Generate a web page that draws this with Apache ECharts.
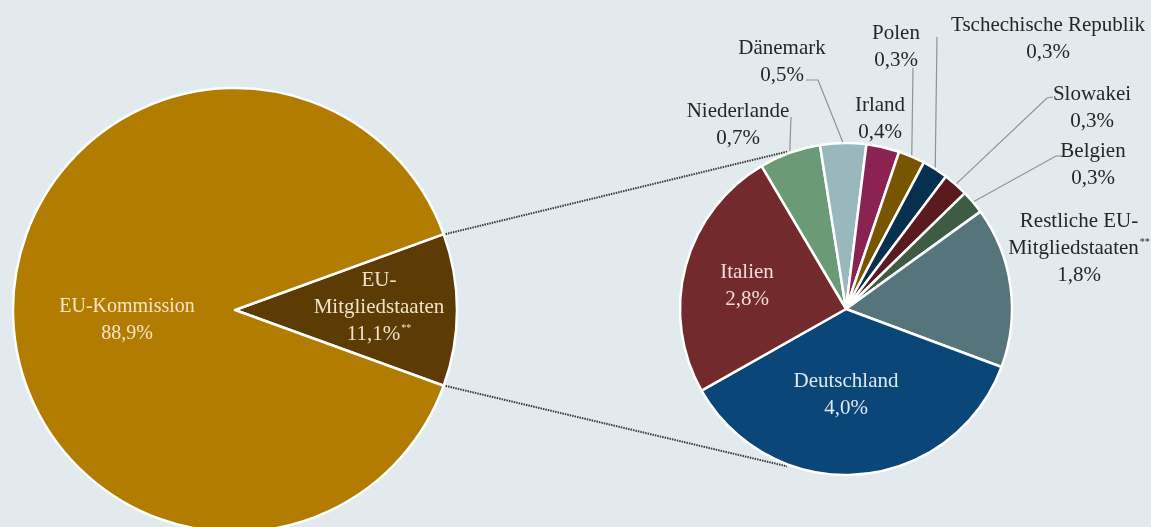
<!DOCTYPE html>
<html><head><meta charset="utf-8">
<script src="https://cdn.jsdelivr.net/npm/echarts@6/dist/echarts.min.js"></script>
<style>html,body{margin:0;padding:0;background:#e3eaed;}#c{width:1151px;height:527px;}</style>
</head><body><div id="c"></div>
<script>
// ---- data ----
const leftNames = ['EU-Mitgliedstaaten', 'EU-Kommission'];
const leftValues = [11.1, 88.9];
const leftLabelTexts = ['EU-\nMitgliedstaaten\n%v{s|**}', 'EU-Kommission\n%v'];

const rightNames = ['Niederlande', 'Dänemark', 'Irland', 'Polen', 'Tschechische Republik',
  'Slowakei', 'Belgien', 'Restliche EU-Mitgliedstaaten', 'Deutschland', 'Italien'];
const rightValues = [0.67, 0.50, 0.36, 0.29, 0.28, 0.27, 0.26, 1.75, 4.04, 2.76];
const rightLabelTexts = ['Niederlande\n%v', 'Dänemark\n%v', 'Irland\n%v', 'Polen\n%v',
  'Tschechische Republik\n%v', 'Slowakei\n%v', 'Belgien\n%v',
  'Restliche EU-\nMitgliedstaaten{s|**}\n%v', 'Deutschland\n%v', 'Italien\n%v'];

// ---- styles / layout ----
const leftColors = ['#5c3c04', '#b27c00'];
const rightColors = ['#6b9a77', '#9bb7be', '#8a2352', '#7a5500', '#07304f', '#5a1b1f',
  '#3e5c43', '#56747b', '#0a4677', '#722a2c'];
const LC = [235, 310], LR = 222, LSTART = 20;
const RC = [846, 309], RR = 166, RSTART = 120.6;
const FONT = '"Liberation Serif", "DejaVu Serif", serif';

const leftLabelPos = [[379, 307], [127, 320]];
const leftFontSize = [21, 20];
const leftLabelColor = ['#efe3cc', '#f3e6c8'];
const rightLabelPos = [[738, 125], [782, 62], [880, 119], [896, 47], [1048, 39],
  [1092, 108], [1093, 165], [1079, 248], [846, 395], [747, 286]];
const rightLabelColor = ['#262626', '#262626', '#262626', '#262626', '#262626', '#262626',
  '#262626', '#262626', '#dfe7ef', '#eedcd8'];
const rightLeader = [
  [[791, 117], [791, 117]],
  [[818, 80], [806, 80]],
  null,
  [[913, 68], [913, 68]],
  [[937, 37], [937, 37]],
  [[1047, 98], [1053, 97]],
  [[1056, 156], [1062, 156]],
  null, null, null
];

function fmt(v) { return (Math.round(v * 10) / 10).toFixed(1).replace('.', ',') + '%'; }

const rich = { s: { fontSize: 10, fontFamily: FONT, verticalAlign: 'top', padding: [3, 0, 0, 1] } };

const chart = echarts.init(document.getElementById('c'), null, { renderer: 'canvas' });

function deg(a) { return a * Math.PI / 180; }
const lTop = [LC[0] + LR * Math.cos(deg(LSTART)), LC[1] - LR * Math.sin(deg(LSTART))];
const lBot = [LC[0] + LR * Math.cos(deg(-LSTART)), LC[1] - LR * Math.sin(deg(-LSTART))];
const rTop = [RC[0] + (RR + 2) * Math.cos(deg(110.5)), RC[1] - (RR + 2) * Math.sin(deg(110.5))];
const rBot = [RC[0] + (RR + 2) * Math.cos(deg(-110.5)), RC[1] - (RR + 2) * Math.sin(deg(-110.5))];

const dotStyle = { stroke: '#3a3a3a', lineWidth: 2, lineDash: [1.5, 1] };

chart.setOption({
  backgroundColor: '#e3eaed',
  animation: false,
  graphic: [
    { type: 'line', z: 0, shape: { x1: lTop[0] + 2, y1: lTop[1], x2: rTop[0], y2: rTop[1] }, style: dotStyle },
    { type: 'line', z: 0, shape: { x1: lBot[0] + 2, y1: lBot[1], x2: rBot[0], y2: rBot[1] }, style: dotStyle }
  ],
  series: [
    {
      type: 'pie', center: LC, radius: LR, startAngle: LSTART, clockwise: true,
      avoidLabelOverlap: false, silent: true,
      itemStyle: { borderColor: '#ffffff', borderWidth: 2.5 },
      label: {
        show: true, position: 'inside', fontFamily: FONT, fontSize: 20, lineHeight: 27,
        rich: rich,
        formatter: p => leftLabelTexts[p.dataIndex].replace('%v', fmt(p.value))
      },
      labelLine: { show: false },
      labelLayout: p => ({ x: leftLabelPos[p.dataIndex][0], y: leftLabelPos[p.dataIndex][1],
        align: 'center', verticalAlign: 'middle' }),
      data: leftNames.map((n, i) => ({ name: n, value: leftValues[i],
        itemStyle: { color: leftColors[i] },
        label: { color: leftLabelColor[i], fontSize: leftFontSize[i] } }))
    },
    {
      type: 'pie', center: RC, radius: RR, startAngle: RSTART, clockwise: true,
      avoidLabelOverlap: false, silent: true,
      itemStyle: { borderColor: '#ffffff', borderWidth: 2.5 },
      label: {
        show: true, position: 'outside', fontFamily: FONT, fontSize: 21, lineHeight: 27,
        rich: rich,
        formatter: p => rightLabelTexts[p.dataIndex].replace('%v', fmt(p.value))
      },
      labelLine: { show: true, lineStyle: { color: '#8c9296', width: 1.2 } },
      labelLayout: p => {
        const i = p.dataIndex;
        const o = { x: rightLabelPos[i][0], y: rightLabelPos[i][1], align: 'center', verticalAlign: 'middle' };
        if (rightLeader[i] && p.labelLinePoints) {
          o.labelLinePoints = [p.labelLinePoints[0], rightLeader[i][0], rightLeader[i][1]];
        }
        return o;
      },
      data: rightNames.map((n, i) => ({ name: n, value: rightValues[i],
        itemStyle: { color: rightColors[i] },
        label: { color: rightLabelColor[i] },
        labelLine: { show: !!rightLeader[i] } }))
    }
  ]
});
</script></body></html>
